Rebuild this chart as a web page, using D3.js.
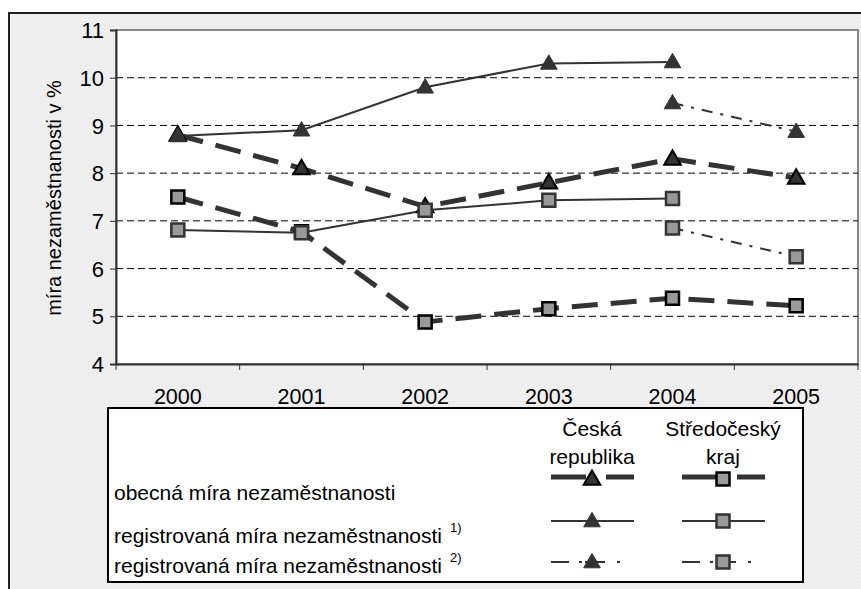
<!DOCTYPE html>
<meta charset="utf-8">
<style>
  body { margin: 0; background: #fff; }
  text { font-family: "Liberation Sans", Arial, sans-serif; fill: #000; }
</style>
<body>
<script src="https://cdn.jsdelivr.net/npm/d3@7/dist/d3.min.js"></script>
<script>

    var width = 861,
        height = 589;

    // data
    var years = ["2000", "2001", "2002", "2003", "2004", "2005"];
    var yTicks = [4, 5, 6, 7, 8, 9, 10, 11];
    var crObecna = [8.8, 8.1, 7.3, 7.8, 8.3, 7.9];
    var crReg1 = [8.78, 8.9, 9.8, 10.3, 10.33, null];
    var crReg2 = [null, null, null, null, 9.47, 8.87];
    var skObecna = [7.5, 6.77, 4.88, 5.16, 5.38, 5.22];
    var skReg1 = [6.81, 6.75, 7.22, 7.43, 7.47, null];
    var skReg2 = [null, null, null, null, 6.85, 6.25];
    var rowLabels = ["obecná míra nezaměstnanosti", "registrovaná míra nezaměstnanosti", "registrovaná míra nezaměstnanosti"];
    var rowNotes = ["", "1)", "2)"];

    var svg = d3.select("body").append("svg")
        .attr("width", width)
        .attr("height", height);

    // dotted light background
    var defs = svg.append("defs");
    var pat = defs.append("pattern")
        .attr("id", "dots")
        .attr("width", 4).attr("height", 4)
        .attr("patternUnits", "userSpaceOnUse");
    pat.append("rect").attr("width", 4).attr("height", 4).attr("fill", "#efefef");
    pat.append("rect").attr("x", 1).attr("y", 1).attr("width", 1).attr("height", 1).attr("fill", "#e2e2e2");

    svg.append("rect")
        .attr("x", 9).attr("y", 13)
        .attr("width", width).attr("height", height)
        .attr("fill", "url(#dots)")
        .attr("stroke", "#222")
        .attr("stroke-width", 2);

    var margin = {left: 116, right: 858, top: 30, bottom: 364};

    var x = d3.scaleBand()
        .domain(years)
        .range([margin.left, margin.right]);

    var y = d3.scaleLinear()
        .domain([4, 11])
        .range([margin.bottom, margin.top]);

    // plot area
    svg.append("rect")
        .attr("x", margin.left).attr("y", margin.top)
        .attr("width", margin.right - margin.left)
        .attr("height", margin.bottom - margin.top)
        .attr("fill", "#fff")
        .attr("stroke", "#888")
        .attr("stroke-width", 2);

    // gridlines
    svg.append("g")
        .selectAll("line")
        .data(yTicks.filter(function(d) { return d > 4 && d < 11; }))
        .enter().append("line")
        .attr("x1", margin.left).attr("x2", margin.right)
        .attr("y1", function(d) { return y(d); })
        .attr("y2", function(d) { return y(d); })
        .attr("stroke", "#000")
        .attr("stroke-width", 1)
        .attr("stroke-dasharray", "7,4");

    // y axis
    var yAxis = svg.append("g")
        .attr("transform", "translate(" + margin.left + ",0)")
        .call(d3.axisLeft(y).tickValues(yTicks).tickFormat(d3.format("d")).tickSize(6).tickPadding(6));
    yAxis.attr("font-size", null).attr("font-family", null);
    yAxis.select(".domain").attr("stroke", "#333").attr("stroke-width", 2);
    yAxis.selectAll(".tick line").attr("stroke", "#333");
    yAxis.selectAll("text").style("font-size", "22px").attr("dy", "0.35em").attr("fill", "#000");

    // x axis
    var xAxis = svg.append("g")
        .attr("transform", "translate(0," + margin.bottom + ")")
        .call(d3.axisBottom(x).tickSize(0).tickPadding(25));
    xAxis.attr("font-size", null).attr("font-family", null);
    xAxis.select(".domain").attr("stroke", "#333").attr("stroke-width", 2);
    xAxis.selectAll("text").style("font-size", "21.5px").attr("fill", "#000");
    xAxis.selectAll("line.bound")
        .data(d3.range(years.length + 1))
        .enter().append("line")
        .attr("class", "bound")
        .attr("x1", function(i) { return margin.left + i * x.step(); })
        .attr("x2", function(i) { return margin.left + i * x.step(); })
        .attr("y1", 0).attr("y2", 6)
        .attr("stroke", "#333");

    svg.append("text")
        .attr("transform", "translate(61,198) rotate(-90)")
        .attr("text-anchor", "middle")
        .style("font-size", "20px")
        .text("míra nezaměstnanosti v %");

    // series
    var styles = {
        obecna: {width: 5, dash: "26,13"},
        reg1: {width: 2, dash: null},
        reg2: {width: 2, dash: "11,8,3,8"}
    };
    var legendDash = ["35,20,30", null, "18,10,3,3,20,12,3"];

    var series = [
        {values: crObecna, style: "obecna", marker: "tri", outline: "#000"},
        {values: skObecna, style: "obecna", marker: "sq", outline: "#000"},
        {values: crReg1, style: "reg1", marker: "tri", outline: "#333"},
        {values: skReg1, style: "reg1", marker: "sq", outline: "#333"},
        {values: crReg2, style: "reg2", marker: "tri", outline: "#333"},
        {values: skReg2, style: "reg2", marker: "sq", outline: "#333"}
    ];

    var line = d3.line()
        .defined(function(d) { return d.v != null; })
        .x(function(d) { return x(d.year) + x.bandwidth() / 2; })
        .y(function(d) { return y(d.v); });

    var triPath = d3.symbol().type(d3.symbolTriangle).size(120)();
    var sqPath = "M-6.5,-6.5H6.5V6.5H-6.5Z";

    function drawMarker(g, type, cx, cy, outline) {
        if (type == "tri") {
            g.append("path")
                .attr("d", triPath)
                .attr("transform", "translate(" + cx + "," + (cy + 1) + ")")
                .attr("fill", "#333")
                .attr("stroke", outline)
                .attr("stroke-width", outline == "#000" ? 2 : 1);
        } else {
            g.append("path")
                .attr("d", sqPath)
                .attr("transform", "translate(" + cx + "," + cy + ")")
                .attr("fill", "#999")
                .attr("stroke", outline)
                .attr("stroke-width", 2.5);
        }
    }

    var plot = svg.append("g");
    series.forEach(function(s) {
        var pts = years.map(function(yr, i) { return {year: yr, v: s.values[i]}; });
        plot.append("path")
            .datum(pts)
            .attr("d", line)
            .attr("fill", "none")
            .attr("stroke", "#333")
            .attr("stroke-width", styles[s.style].width)
            .attr("stroke-dasharray", styles[s.style].dash);
    });
    series.forEach(function(s) {
        years.forEach(function(yr, i) {
            if (s.values[i] == null) return;
            drawMarker(plot, s.marker, x(yr) + x.bandwidth() / 2, y(s.values[i]), s.outline);
        });
    });

    // legend
    var leg = svg.append("g");
    leg.append("rect")
        .attr("x", 108).attr("y", 408)
        .attr("width", 695).attr("height", 174)
        .attr("fill", "#fff")
        .attr("stroke", "#000")
        .attr("stroke-width", 2);

    var colX = [592, 723];
    var colHead = [["Česká", "republika"], ["Středočeský", "kraj"]];
    colHead.forEach(function(h, c) {
        h.forEach(function(t, j) {
            leg.append("text")
                .attr("x", colX[c]).attr("y", 436 + j * 28)
                .attr("text-anchor", "middle")
                .style("font-size", "21px")
                .text(t);
        });
    });

    var rowY = [477, 521, 562];
    var rowTextY = [500, 543, 573];
    var rowStyle = ["obecna", "reg1", "reg2"];
    rowLabels.forEach(function(t, r) {
        var tx = leg.append("text")
            .attr("x", 114).attr("y", rowTextY[r])
            .style("font-size", "21px")
            .text(t);
        if (rowNotes[r]) {
            tx.append("tspan")
                .attr("dx", 8).attr("dy", -11)
                .style("font-size", "13px")
                .text(rowNotes[r]);
        }
        colX.forEach(function(cx, c) {
            leg.append("line")
                .attr("x1", cx - 41).attr("x2", cx + 42)
                .attr("y1", rowY[r]).attr("y2", rowY[r])
                .attr("stroke", "#333")
                .attr("stroke-width", styles[rowStyle[r]].width)
                .attr("stroke-dasharray", legendDash[r]);
            drawMarker(leg, c == 0 ? "tri" : "sq", cx, rowY[r] + (r == 0 ? 2 : 0), r == 0 ? "#000" : "#333");
        });
    });

</script>
